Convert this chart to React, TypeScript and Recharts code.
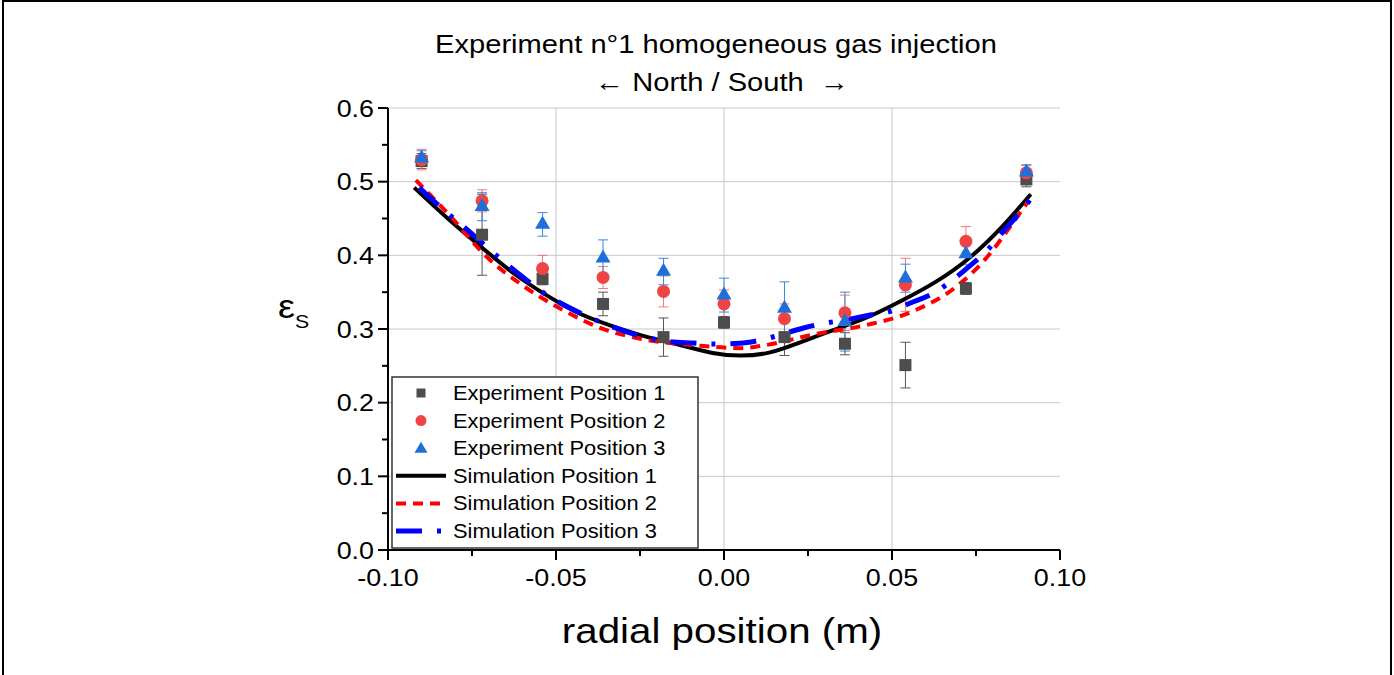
import React from "react";
import {
  ComposedChart,
  Scatter,
  Line,
  XAxis,
  YAxis,
  ErrorBar,
  ReferenceLine,
} from "recharts";

// radial positions of the measurement probes (m)
const probeX = [-0.09, -0.072, -0.054, -0.036, -0.018, 0, 0.018, 0.036, 0.054, 0.072, 0.09];

// measured solid fraction + error, per position
const exp1Y = [0.528, 0.428, 0.368, 0.334, 0.289, 0.309, 0.289, 0.28, 0.251, 0.355, 0.503];
const exp1Err = [0.01, 0.055, 0.008, 0.016, 0.026, 0.008, 0.025, 0.015, 0.031, 0.008, 0.01];
const exp2Y = [0.53, 0.474, 0.382, 0.37, 0.351, 0.334, 0.314, 0.322, 0.36, 0.419, 0.512];
const exp2Err = [0.014, 0.015, 0.018, 0.015, 0.021, 0.019, 0.02, 0.024, 0.036, 0.02, 0.01];
const exp3Y = [0.532, 0.466, 0.442, 0.396, 0.378, 0.346, 0.328, 0.31, 0.369, 0.402, 0.513];
const exp3Err = [0.01, 0.019, 0.016, 0.025, 0.018, 0.023, 0.036, 0.04, 0.019, 0.015, 0.01];

// simulation profiles
const sim1X = [-0.0922, -0.0822, -0.0723, -0.0624, -0.0525, -0.0425, -0.0326, -0.0227, -0.0128, -0.0029, 0.005, 0.0134, 0.0233, 0.0332, 0.0432, 0.0531, 0.063, 0.0729, 0.0828, 0.0913];
const sim1Y = [0.492, 0.45, 0.4115, 0.375, 0.345, 0.32, 0.303, 0.289, 0.278, 0.267, 0.264, 0.268, 0.283, 0.2995, 0.317, 0.339, 0.364, 0.396, 0.439, 0.483];
const sim2X = [-0.0917, -0.0806, -0.0711, -0.0602, -0.048, -0.0365, -0.0227, -0.0088, 0.005, 0.0122, 0.0271, 0.042, 0.0551, 0.069, 0.078, 0.0869, 0.0908];
const sim2Y = [0.502, 0.449, 0.4, 0.36, 0.326, 0.301, 0.285, 0.278, 0.274, 0.278, 0.293, 0.305, 0.322, 0.357, 0.396, 0.45, 0.475];
const sim3X = [-0.0907, -0.085, -0.0757, -0.0698, -0.06, -0.054, -0.0425, -0.036, -0.0236, -0.0167, -0.009, -0.003, 0.0047, 0.0098, 0.016, 0.0234, 0.0297, 0.0357, 0.0435, 0.049, 0.0553, 0.0625, 0.0679, 0.0735, 0.0784, 0.083, 0.0874, 0.0919];
const sim3Y = [0.492, 0.468, 0.432, 0.408, 0.371, 0.35, 0.321, 0.308, 0.289, 0.283, 0.281, 0.2795, 0.2806, 0.284, 0.291, 0.301, 0.3076, 0.312, 0.319, 0.3234, 0.335, 0.349, 0.366, 0.387, 0.407, 0.432, 0.4545, 0.48];

// axis ticks
const xTicks = [-0.1, -0.075, -0.05, -0.025, 0, 0.025, 0.05, 0.075, 0.1];
const xMajor = [-0.1, -0.05, 0, 0.05, 0.1];
const yTicks = [0, 0.05, 0.1, 0.15, 0.2, 0.25, 0.3, 0.35, 0.4, 0.45, 0.5, 0.55, 0.6];
const yMajor = [0, 0.1, 0.2, 0.3, 0.4, 0.5, 0.6];
const xGrid = [-0.05, 0, 0.05];
const yGrid = [0.1, 0.2, 0.3, 0.4, 0.5, 0.6];

const legendLabels = [
  "Experiment Position 1",
  "Experiment Position 2",
  "Experiment Position 3",
  "Simulation Position 1",
  "Simulation Position 2",
  "Simulation Position 3",
];

const toPoints = (xs: number[], ys: number[], errs?: number[]) =>
  xs.map((x, i) => ({ x, y: ys[i], err: errs ? errs[i] : 0 }));

const exp1 = toPoints(probeX, exp1Y, exp1Err);
const exp2 = toPoints(probeX, exp2Y, exp2Err);
const exp3 = toPoints(probeX, exp3Y, exp3Err);
const sim1 = toPoints(sim1X, sim1Y);
const sim2 = toPoints(sim2X, sim2Y);
const sim3 = toPoints(sim3X, sim3Y);

const FONT = '"Liberation Sans", Arial, sans-serif';
const SX = 1.12; // the original figure is a bit wider than tall
const GRAY = "#4d4d4d";
const RED = "#ef4444";
const BLUE = "#1f6fd8";
const RED_DASH = "10 7";
const BLUE_DASH = "26 15 4 15";
const TICK_SIZE = 10;
const TICK_MARGIN = 4;

const near = (list: number[], v: number) => list.some((m) => Math.abs(m - v) < 1e-9);

// text stretched horizontally like the source figure
const SText = ({ x, y, size, anchor = "middle", children }: any) => (
  <text
    transform={`translate(${x},${y}) scale(${SX},1)`}
    textAnchor={anchor}
    fontSize={size}
    fontFamily={FONT}
    fill="#000"
  >
    {children}
  </text>
);

const XTick = (props: any) => {
  const { x, y, payload } = props;
  const v = payload.value;
  const major = near(xMajor, v);
  const ay = y - TICK_SIZE - TICK_MARGIN;
  return (
    <g>
      <line x1={x} x2={x} y1={ay} y2={ay + (major ? 10 : 6)} stroke="#000" strokeWidth={2} />
      {major && (
        <SText x={x} y={ay + 36} size={24}>
          {v.toFixed(2)}
        </SText>
      )}
    </g>
  );
};

const YTick = (props: any) => {
  const { x, y, payload } = props;
  const v = payload.value;
  const major = near(yMajor, v);
  const ax = x + TICK_SIZE + TICK_MARGIN;
  return (
    <g>
      <line x1={ax} x2={ax - (major ? 10 : 6)} y1={y} y2={y} stroke="#000" strokeWidth={2} />
      {major && (
        <SText x={ax - 14} y={y + 8.5} size={24} anchor="end">
          {v.toFixed(1)}
        </SText>
      )}
    </g>
  );
};

const Square = ({ cx, cy, s = 12 }: any) => (
  <rect x={cx - s / 2} y={cy - s / 2} width={s} height={s} fill={GRAY} />
);
const Circle = ({ cx, cy, r = 6.5 }: any) => <circle cx={cx} cy={cy} r={r} fill={RED} />;
const Triangle = ({ cx, cy, w = 15, h = 13 }: any) => (
  <polygon
    points={`${cx},${cy - (2 * h) / 3} ${cx - w / 2},${cy + h / 3} ${cx + w / 2},${cy + h / 3}`}
    fill={BLUE}
  />
);

const LegendBox = () => {
  const left = 392;
  const top = 377;
  const rowY = (i: number) => top + 16 + i * 27.6;
  const sx = 421;
  return (
    <g>
      <rect x={left} y={top} width={306} height={171} fill="#fff" stroke="#333" strokeWidth={1.5} />
      <Square cx={sx} cy={rowY(0)} s={9} />
      <Circle cx={sx} cy={rowY(1)} r={5.5} />
      <Triangle cx={sx} cy={rowY(2) + 1} w={13} h={11} />
      <line x1={396} x2={446} y1={rowY(3)} y2={rowY(3)} stroke="#000" strokeWidth={4} />
      <line x1={396} x2={446} y1={rowY(4)} y2={rowY(4)} stroke="#ff0000" strokeWidth={4} strokeDasharray={RED_DASH} />
      <line x1={396} x2={446} y1={rowY(5)} y2={rowY(5)} stroke="#0000ff" strokeWidth={5} strokeDasharray={BLUE_DASH} />
      {legendLabels.map((l, i) => (
        <SText key={l} x={453} y={rowY(i) + 7} size={19.5} anchor="start">
          {l}
        </SText>
      ))}
    </g>
  );
};

export default function App() {
  return (
    <div style={{ position: "absolute", left: 0, top: 0, width: 1394, height: 675, background: "#fff" }}>
      <div
        style={{
          position: "absolute",
          left: 2,
          top: 0,
          width: 1390,
          height: 675,
          boxSizing: "border-box",
          borderTop: "2px solid #000",
          borderLeft: "2px solid #000",
          borderRight: "2px solid #000",
        }}
      />
      <div style={{ position: "absolute", left: 0, top: 0 }}>
        <ComposedChart
          width={1394}
          height={675}
          margin={{ top: 108, right: 334, bottom: 85, left: 328 }}
          style={{ fontFamily: FONT }}
        >
          <XAxis
            type="number"
            dataKey="x"
            domain={[-0.1, 0.1]}
            ticks={xTicks}
            interval={0}
            allowDataOverflow
            height={40}
            tickSize={TICK_SIZE}
            tickMargin={TICK_MARGIN}
            tickLine={false}
            axisLine={{ stroke: "#000", strokeWidth: 2 }}
            tick={XTick}
          />
          <YAxis
            type="number"
            dataKey="y"
            domain={[0, 0.6]}
            ticks={yTicks}
            interval={0}
            allowDataOverflow
            width={60}
            tickSize={TICK_SIZE}
            tickMargin={TICK_MARGIN}
            tickLine={false}
            axisLine={{ stroke: "#000", strokeWidth: 2 }}
            tick={YTick}
          />
          {xGrid.map((v) => (
            <ReferenceLine key={"gx" + v} x={v} stroke="#c8c8c8" strokeWidth={1} />
          ))}
          {yGrid.map((v) => (
            <ReferenceLine key={"gy" + v} y={v} stroke="#c8c8c8" strokeWidth={1} />
          ))}
          <Scatter data={exp1} dataKey="y" shape={Square} isAnimationActive={false}>
            <ErrorBar dataKey="err" direction="y" width={5} stroke="#555" strokeWidth={1} isAnimationActive={false} />
          </Scatter>
          <Scatter data={exp2} dataKey="y" shape={Circle} isAnimationActive={false}>
            <ErrorBar dataKey="err" direction="y" width={5} stroke="#f07a7a" strokeWidth={1} isAnimationActive={false} />
          </Scatter>
          <Scatter data={exp3} dataKey="y" shape={Triangle} isAnimationActive={false}>
            <ErrorBar dataKey="err" direction="y" width={5} stroke="#3b86e6" strokeWidth={1} isAnimationActive={false} />
          </Scatter>
          <Line data={sim1} dataKey="y" type="natural" stroke="#000" strokeWidth={4} dot={false} isAnimationActive={false} />
          <Line data={sim2} dataKey="y" type="monotone" stroke="#ff0000" strokeWidth={4} strokeDasharray={RED_DASH} dot={false} isAnimationActive={false} />
          <Line data={sim3} dataKey="y" type="monotone" stroke="#0000ff" strokeWidth={5} strokeDasharray={BLUE_DASH} dot={false} isAnimationActive={false} />
        </ComposedChart>
      </div>
      <svg width={1394} height={675} style={{ position: "absolute", left: 0, top: 0, pointerEvents: "none" }}>
        <SText x={716} y={53} size={26}>
          Experiment n°1 homogeneous gas injection
        </SText>
        <SText x={722} y={91} size={26}>
          {"← North / South \u00a0→"}
        </SText>
        <text x={278} y={318} fontSize={34} fontFamily={FONT} transform={`translate(${278 * (1 - SX)},0) scale(${SX},1)`}>
          ε
          <tspan fontSize={19} dy={10}>
            S
          </tspan>
        </text>
        <SText x={722} y={643} size={36}>
          radial position (m)
        </SText>
        <LegendBox />
      </svg>
    </div>
  );
}
